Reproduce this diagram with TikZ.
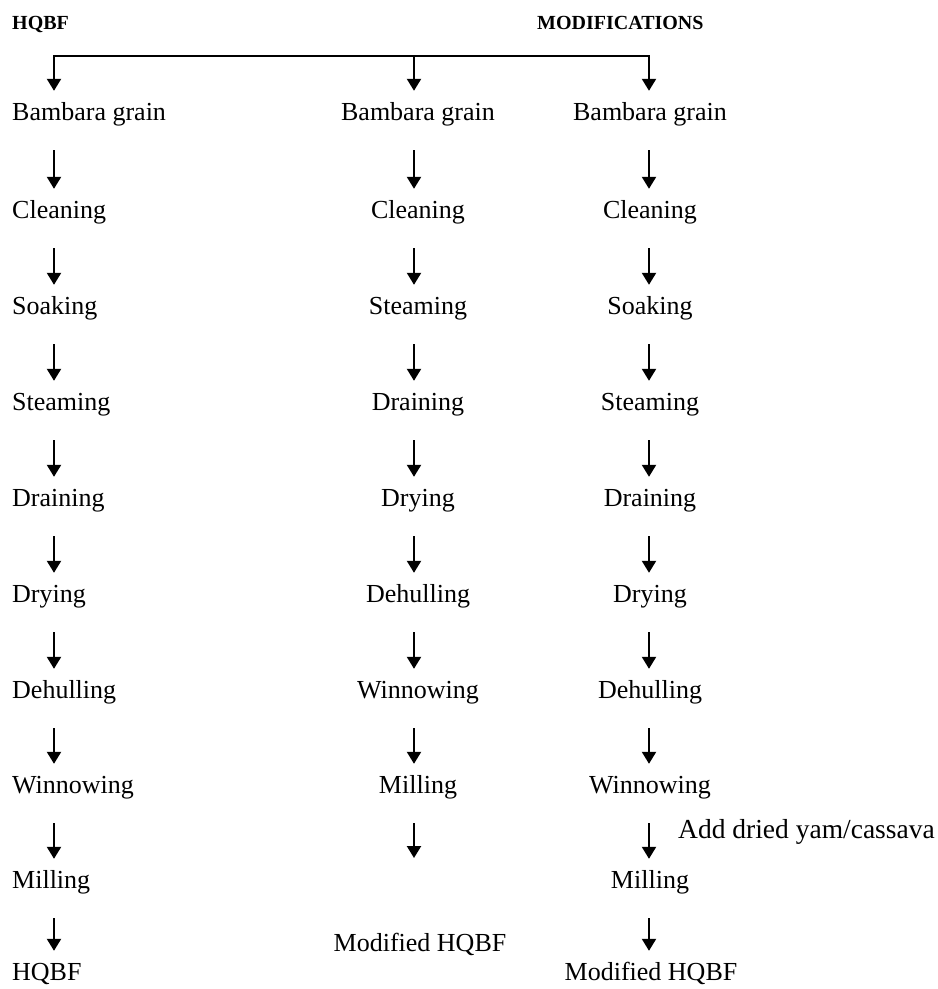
\documentclass[tikz,border=0pt]{standalone}
\usepackage{fontspec}
\setmainfont{Liberation Serif}
\usetikzlibrary{arrows.meta}
\begin{document}
\begin{tikzpicture}[x=1pt,y=-1pt,
  lbl/.style={font=\fontsize{26}{30}\selectfont, inner sep=0pt, text height=18pt, text depth=6pt},
  lw/.style={lbl, anchor=base west},
  lc/.style={lbl, anchor=base},
  hdr/.style={font=\bfseries\fontsize{20}{24}\selectfont, inner sep=0pt, anchor=base west},
  flow/.style={line width=2.2pt, -{Triangle[width=14pt,length=12pt]}, shorten <=24pt, shorten >=11pt},
  drop/.style={line width=2.2pt, -{Triangle[width=14pt,length=12pt]}, shorten >=11pt}
]
\useasboundingbox (0,0) rectangle (938,989);
\coordinate (x1) at (54,0);
\coordinate (x2) at (414,0);
\coordinate (x3) at (649,0);
\coordinate (top) at (0,56);

\node[hdr] (h1) at (12,29) {HQBF};
\node[hdr] (h2) at (537,29) {MODIFICATIONS};

% column 1
\node[lw] (a1) at (12,120) {Bambara grain};
\node[lw] (a2) at (12,218) {Cleaning};
\node[lw] (a3) at (12,314) {Soaking};
\node[lw] (a4) at (12,410) {Steaming};
\node[lw] (a5) at (12,506) {Draining};
\node[lw] (a6) at (12,602) {Drying};
\node[lw] (a7) at (12,698) {Dehulling};
\node[lw] (a8) at (12,793) {Winnowing};
\node[lw] (a9) at (12,888) {Milling};
\node[lw] (a10) at (12,980) {HQBF};

% column 2
\node[lc] (b1) at (418,120) {Bambara grain};
\node[lc] (b2) at (418,218) {Cleaning};
\node[lc] (b3) at (418,314) {Steaming};
\node[lc] (b4) at (418,410) {Draining};
\node[lc] (b5) at (418,506) {Drying};
\node[lc] (b6) at (418,602) {Dehulling};
\node[lc] (b7) at (418,698) {Winnowing};
\node[lc] (b8) at (418,793) {Milling};
\node[lc] (b9) at (420,951) {Modified HQBF};
\coordinate (bend) at (414,858);

% column 3
\node[lc] (c1) at (650,120) {Bambara grain};
\node[lc] (c2) at (650,218) {Cleaning};
\node[lc] (c3) at (650,314) {Soaking};
\node[lc] (c4) at (650,410) {Steaming};
\node[lc] (c5) at (650,506) {Draining};
\node[lc] (c6) at (650,602) {Drying};
\node[lc] (c7) at (650,698) {Dehulling};
\node[lc] (c8) at (650,793) {Winnowing};
\node[lc] (c9) at (650,888) {Milling};
\node[lc] (c10) at (651,980) {Modified HQBF};
\node[lw, font=\fontsize{27.5}{30}\selectfont] (add) at (678,838) {Add dried yam/cassava};

% top connector
\draw[line width=2.2pt, line join=miter, {Triangle[width=14pt,length=12pt]}-{Triangle[width=14pt,length=12pt]}, shorten <=11pt, shorten >=11pt]
  (a1.north -| x1) -- (top -| x1) -- (top -| x3) -- (c1.north -| x3);
\draw[drop] (top -| x2) -- (b1.north -| x2);

% column arrows
\foreach \i/\j in {1/2,2/3,3/4,4/5,5/6,6/7,7/8,8/9,9/10}
  \draw[flow] (a\i.south -| x1) -- (a\j.north -| x1);
\foreach \i/\j in {1/2,2/3,3/4,4/5,5/6,6/7,7/8}
  \draw[flow] (b\i.south -| x2) -- (b\j.north -| x2);
\draw[flow, shorten >=0pt] (b8.south -| x2) -- (bend);
\foreach \i/\j in {1/2,2/3,3/4,4/5,5/6,6/7,7/8,8/9,9/10}
  \draw[flow] (c\i.south -| x3) -- (c\j.north -| x3);
\end{tikzpicture}
\end{document}
